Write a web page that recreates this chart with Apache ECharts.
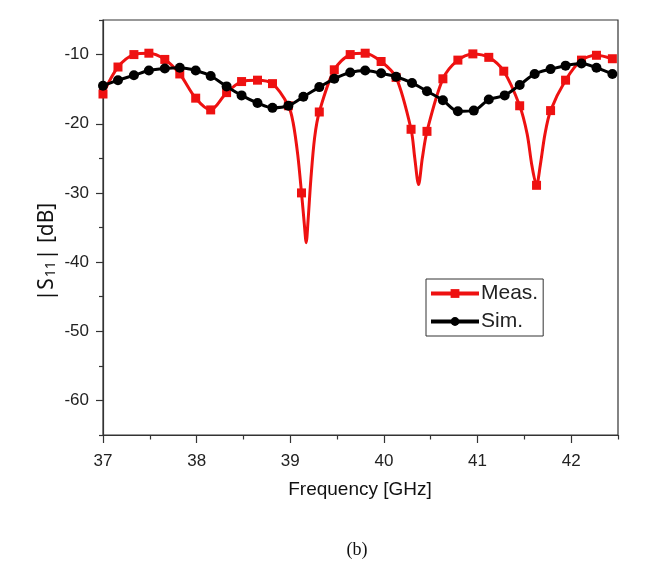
<!DOCTYPE html>
<html>
<head>
<meta charset="utf-8">
<script src="https://cdn.jsdelivr.net/npm/echarts@6/dist/echarts.min.js"></script>
<style>
html,body{margin:0;padding:0;background:#fff;}
#chart{width:650px;height:579px;}
</style>
</head>
<body>
<div id="chart"></div>
<script>
// Simulated |S11| (black, circles)
const simFreq = [37.00,37.16,37.33,37.49,37.66,37.82,37.99,38.15,38.32,38.48,38.65,38.81,38.98,39.14,39.31,39.47,39.64,39.80,39.97,40.13,40.30,40.46,40.63,40.79,40.96,41.12,41.29,41.45,41.61,41.78,41.94,42.11,42.27,42.44];
const simVals = [-14.5,-13.7,-13.0,-12.3,-12.0,-11.9,-12.3,-13.1,-14.6,-15.9,-17.0,-17.7,-17.4,-16.1,-14.7,-13.5,-12.6,-12.3,-12.7,-13.2,-14.1,-15.3,-16.6,-18.2,-18.1,-16.5,-15.9,-14.4,-12.8,-12.1,-11.6,-11.3,-11.9,-12.8];
// Measured |S11| (red, squares); measMark = 1 where a marker is drawn
const measFreq = [37.00,37.16,37.33,37.49,37.66,37.82,37.99,38.15,38.32,38.48,38.65,38.81,38.98,39.03,39.08,39.12,39.15,39.17,39.19,39.22,39.26,39.31,39.47,39.64,39.80,39.97,40.13,40.29,40.33,40.37,40.41,40.46,40.63,40.79,40.95,41.12,41.28,41.45,41.53,41.58,41.63,41.67,41.72,41.78,41.94,42.11,42.27,42.44];
const measVals = [-15.7,-11.8,-10.0,-9.8,-10.7,-12.8,-16.3,-18.0,-15.5,-13.9,-13.7,-14.2,-17.4,-19.8,-24.5,-30.0,-34.5,-37.2,-34.0,-28.0,-22.0,-18.3,-12.2,-10.0,-9.8,-11.0,-13.3,-20.8,-25.0,-28.8,-25.0,-21.1,-13.5,-10.8,-9.9,-10.4,-12.4,-17.4,-21.5,-26.0,-28.9,-26.0,-21.5,-18.1,-13.7,-10.8,-10.1,-10.6];
const measMark = [1,1,1,1,1,1,1,1,1,1,1,1,1,0,0,1,0,0,0,0,0,1,1,1,1,1,1,1,0,0,0,1,1,1,1,1,1,1,0,0,1,0,0,1,1,1,1,1];
const xMajor = [37,38,39,40,41,42];
const xMinor = [37.5,38.5,39.5,40.5,41.5,42.5];
const yMajor = [-60,-50,-40,-30,-20,-10];
const yMinor = [-65,-55,-45,-35,-25,-15,-5];

const chart = echarts.init(document.getElementById('chart'), null, {renderer:'canvas'});
const measData = measFreq.map((f,i)=>({value:[f,measVals[i]], symbol: measMark[i] ? 'rect' : 'none'}));
const simData = simFreq.map((f,i)=>[f,simVals[i]]);
const axisColor = '#333';
const tickFont = {fontSize:17, color:'#222', fontFamily:'Liberation Sans, Arial, sans-serif'};

chart.setOption({
  animation:false,
  backgroundColor:'#fff',
  grid:{left:103, right:32, top:20, bottom:144, show:true, borderColor:axisColor, borderWidth:1.2, backgroundColor:'transparent'},
  xAxis:[
    {type:'value', min:37, max:42.5, interval:0.5, position:'bottom',
     axisLine:{show:true, lineStyle:{color:axisColor, width:1.2}},
     axisTick:{show:true, customValues:xMajor, length:8, lineStyle:{color:axisColor, width:1.2}},
     axisLabel:Object.assign({customValues:xMajor, margin:18}, tickFont),
     splitLine:{show:false}},
    {type:'value', min:37, max:42.5, interval:0.5, position:'bottom', offset:0,
     axisLine:{show:false},
     axisTick:{show:true, customValues:xMinor, length:4.5, lineStyle:{color:axisColor, width:1.2}},
     axisLabel:{show:false}, splitLine:{show:false}}
  ],
  yAxis:[
    {type:'value', min:-65, max:-5, interval:5, position:'left',
     axisLine:{show:true, lineStyle:{color:axisColor, width:1.2}},
     axisTick:{show:true, customValues:yMajor, length:7, lineStyle:{color:axisColor, width:1.2}},
     axisLabel:Object.assign({customValues:yMajor, margin:14}, tickFont),
     splitLine:{show:false}},
    {type:'value', min:-65, max:-5, interval:5, position:'left', offset:0,
     axisLine:{show:false},
     axisTick:{show:true, customValues:yMinor, length:4, lineStyle:{color:axisColor, width:1.2}},
     axisLabel:{show:false}, splitLine:{show:false}}
  ],
  legend:{
    orient:'vertical', left:426, top:279,
    data:['Meas.','Sim.'],
    itemWidth:48, itemHeight:11, itemGap:7,
    padding:[4,5,4,3],
    borderColor:'#333', borderWidth:1, backgroundColor:'#fff',
    lineStyle:{width:4},
    textStyle:{fontSize:21, color:'#222', fontFamily:'Liberation Sans, Arial, sans-serif', padding:[0,0,0,-3]}
  },
  series:[
    {name:'Meas.', type:'line', xAxisIndex:0, yAxisIndex:0, data:measData,
     smooth:0.3, symbol:'rect', symbolSize:9, showAllSymbol:true,
     lineStyle:{color:'#ee1111', width:3}, itemStyle:{color:'#ee1111'}, z:2},
    {name:'Sim.', type:'line', xAxisIndex:0, yAxisIndex:0, data:simData,
     smooth:0.3, symbol:'circle', symbolSize:10, showAllSymbol:true,
     lineStyle:{color:'#000', width:3}, itemStyle:{color:'#000'}, z:3}
  ],
  graphic:[
    {type:'text', x:47, y:252, rotation:Math.PI/2,
     style:{text:'|S{sub|11}| [dB]', font:'21px "Noto Sans", "Open Sans", sans-serif', fill:'#111', align:'center', verticalAlign:'middle',
            rich:{sub:{fontSize:14, fontFamily:'Noto Sans', fill:'#111', verticalAlign:'bottom', padding:[9,1,0,1]}}}},
    {type:'text', x:360, y:490,
     style:{text:'Frequency [GHz]', font:'19px "Liberation Sans", Arial, sans-serif', fill:'#111', align:'center', verticalAlign:'middle'}},
    {type:'text', x:357, y:550,
     style:{text:'(b)', font:'18px "Liberation Serif", "Times New Roman", serif', fill:'#111', align:'center', verticalAlign:'middle'}}
  ]
});
</script>
</body>
</html>
